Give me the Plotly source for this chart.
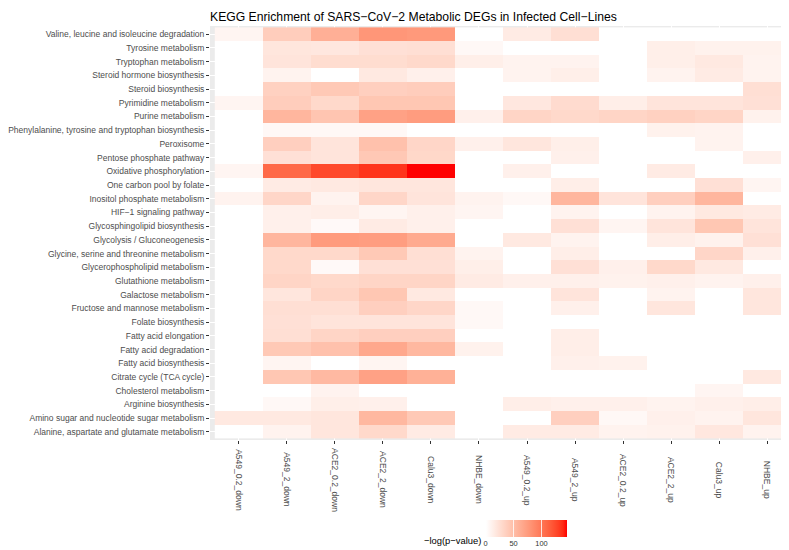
import numpy as np
import plotly.graph_objects as go

# pathways, top to bottom as drawn
pathways = [
    "Valine, leucine and isoleucine degradation",
    "Tyrosine metabolism",
    "Tryptophan metabolism",
    "Steroid hormone biosynthesis",
    "Steroid biosynthesis",
    "Pyrimidine metabolism",
    "Purine metabolism",
    "Phenylalanine, tyrosine and tryptophan biosynthesis",
    "Peroxisome",
    "Pentose phosphate pathway",
    "Oxidative phosphorylation",
    "One carbon pool by folate",
    "Inositol phosphate metabolism",
    "HIF\u22121 signaling pathway",
    "Glycosphingolipid biosynthesis",
    "Glycolysis / Gluconeogenesis",
    "Glycine, serine and threonine metabolism",
    "Glycerophospholipid metabolism",
    "Glutathione metabolism",
    "Galactose metabolism",
    "Fructose and mannose metabolism",
    "Folate biosynthesis",
    "Fatty acid elongation",
    "Fatty acid degradation",
    "Fatty acid biosynthesis",
    "Citrate cycle (TCA cycle)",
    "Cholesterol metabolism",
    "Arginine biosynthesis",
    "Amino sugar and nucleotide sugar metabolism",
    "Alanine, aspartate and glutamate metabolism",
]

samples = ["A549_0.2_down", "A549_2_down", "ACE2_0.2_down", "ACE2_2_down",
           "Calu3_down", "NHBE_down", "A549_0.2_up", "A549_2_up",
           "ACE2_0.2_up", "ACE2_2_up", "Calu3_up", "NHBE_up"]

# -log(p-value) per sample, same order as pathways
a549_02_down = [7, 0, 0, 0, 0, 7, 0, 0, 0, 0, 7, 0, 9, 0, 0, 0, 0, 0, 0, 0, 0, 0, 0, 0, 0, 0, 0, 0, 17, 0]
a549_2_down = [38, 19, 20, 9, 35, 38, 55, 5, 36, 23, 108, 15, 31, 11, 11, 55, 29, 29, 32, 19, 24, 23, 24, 41, 7, 43, 0, 5, 17, 9]
ace2_02_down = [60, 18, 26, 0, 41, 29, 44, 5, 20, 20, 125, 17, 9, 13, 4, 75, 29, 4, 29, 32, 24, 20, 32, 47, 0, 53, 9, 12, 19, 19]
ace2_2_down = [78, 23, 26, 17, 36, 43, 70, 5, 47, 42, 134, 19, 31, 7, 15, 73, 41, 23, 32, 43, 36, 20, 36, 65, 7, 70, 0, 11, 54, 29]
calu3_down = [76, 24, 29, 11, 38, 43, 74, 0, 31, 30, 145, 19, 20, 11, 11, 64, 24, 23, 32, 17, 31, 20, 36, 54, 0, 59, 0, 0, 41, 15]
nhbe_down = [0, 5, 12, 0, 0, 0, 11, 0, 11, 0, 0, 0, 9, 7, 0, 0, 9, 12, 15, 0, 5, 5, 0, 10, 0, 0, 0, 0, 0, 0]
a549_02_up = [15, 0, 9, 9, 0, 18, 32, 0, 19, 0, 11, 0, 5, 0, 0, 17, 0, 0, 11, 0, 0, 0, 0, 0, 0, 0, 0, 13, 0, 15]
a549_2_up = [24, 0, 9, 12, 0, 27, 29, 0, 12, 11, 0, 13, 55, 9, 23, 9, 13, 23, 11, 20, 11, 0, 13, 13, 11, 0, 0, 11, 36, 15]
ace2_02_up = [0, 0, 0, 0, 0, 13, 32, 0, 0, 0, 0, 0, 20, 0, 7, 0, 0, 11, 10, 0, 0, 0, 0, 0, 10, 0, 0, 11, 5, 9]
ace2_2_up = [0, 12, 12, 9, 0, 20, 35, 10, 0, 0, 15, 0, 36, 9, 20, 13, 0, 29, 11, 9, 19, 0, 0, 0, 0, 0, 0, 9, 11, 10]
calu3_up = [0, 10, 17, 15, 0, 20, 32, 9, 9, 0, 0, 23, 55, 17, 43, 10, 31, 17, 9, 0, 0, 0, 0, 0, 0, 0, 7, 11, 9, 18]
nhbe_up = [0, 10, 9, 9, 24, 23, 10, 0, 0, 11, 0, 7, 0, 15, 20, 23, 11, 0, 11, 19, 19, 0, 0, 0, 0, 17, 0, 13, 19, 9]

columns = [a549_02_down, a549_2_down, ace2_02_down, ace2_2_down, calu3_down, nhbe_down,
           a549_02_up, a549_2_up, ace2_02_up, ace2_2_up, calu3_up, nhbe_up]
z = np.array(columns).T


def lab_to_hex(L, a, b):
    # CIE Lab (D65) -> sRGB, like ggplot's white->red gradient
    fy = (L + 16) / 116
    fx = fy + a / 500
    fz = fy - b / 200
    finv = lambda t: t ** 3 if t ** 3 > 0.008856 else (t - 16 / 116) / 7.787
    X, Y, Z = 0.95047 * finv(fx), finv(fy), 1.08883 * finv(fz)
    rgb = [3.2406 * X - 1.5372 * Y - 0.4986 * Z,
           -0.9689 * X + 1.8758 * Y + 0.0415 * Z,
           0.0557 * X - 0.2040 * Y + 1.0570 * Z]
    out = []
    for c in rgb:
        c = min(max(c, 0), 1)
        c = 1.055 * c ** (1 / 2.4) - 0.055 if c > 0.0031308 else 12.92 * c
        out.append(int(round(min(max(c, 0), 1) * 255)))
    return "rgb(%d,%d,%d)" % tuple(out)


white_lab = (100.0, 0.0, 0.0)
red_lab = (53.24, 80.09, 67.20)
colorscale = []
for t in np.linspace(0, 1, 21):
    lab = [w + (r - w) * t for w, r in zip(white_lab, red_lab)]
    colorscale.append([float(t), lab_to_hex(*lab)])

W, H = 789, 550
ml, mr, mt, mb = 202, 1, 18, 118
pw = W - ml - mr
ph = H - mt - mb
bottom = H - mb  # pixel row of the panel's bottom edge


def px_x(px):
    return (px - ml) / pw


def px_y(py):
    return (bottom - py) / ph


fig = go.Figure(go.Heatmap(
    z=z, x=samples, y=pathways,
    colorscale=colorscale, zmin=0, zmax=float(z.max()),
    xgap=0, ygap=0,
    colorbar=dict(
        orientation="h", xref="container", yref="container",
        x=0.815, xanchor="left", y=1 - 512 / H, yanchor="top",
        lenmode="pixels", len=81, thickness=17,
        xpad=0, ypad=0, outlinewidth=0,
        tickvals=[0, 50, 100], ticks="inside", ticklen=17,
        tickcolor="rgba(255,255,255,0.8)", tickwidth=1,
        tickfont=dict(family="Liberation Sans", size=7.4, color="#333333"),
    ),
))

# x labels, rotated and centred like ggplot
annotations = []
for s in samples:
    annotations.append(dict(
        x=s, xref="x", y=px_y(472), yref="paper",
        text=s, showarrow=False, textangle=90,
        xanchor="center", yanchor="middle",
        font=dict(family="Liberation Sans", size=8.5, color="#4D4D4D")))

# legend title
annotations.append(dict(
    x=px_x(475), xref="paper", y=px_y(532), yref="paper",
    text="\u2212log(p\u2212value)", showarrow=False,
    xanchor="right", yanchor="middle",
    font=dict(family="Liberation Sans", size=9.4, color="black")))

fig.update_layout(
    width=W, height=H,
    margin=dict(l=ml, r=mr, t=mt, b=mb, pad=0),
    paper_bgcolor="white", plot_bgcolor="#EBEBEB",
    font=dict(family="Liberation Sans"),
    title=dict(
        text="KEGG Enrichment of SARS\u2212CoV\u22122 Metabolic DEGs in Infected Cell\u2212Lines",
        x=ml / W, xanchor="left", xref="container",
        y=1 - 9 / H, yanchor="middle", yref="container",
        font=dict(size=12.2, color="black")),
    xaxis=dict(
        type="category", range=[-0.6, len(samples) - 0.4],
        showgrid=True, gridcolor="white", gridwidth=1,
        ticks="outside", ticklen=3, tickcolor="#333333",
        showticklabels=False, zeroline=False, showline=False,
        automargin=False),
    yaxis=dict(
        type="category", range=[len(pathways) - 0.4, -0.6],
        showgrid=True, gridcolor="white", gridwidth=1,
        ticks="outside", ticklen=3, tickcolor="#333333",
        tickfont=dict(size=8.5, color="#4D4D4D"),
        zeroline=False, showline=False, automargin=False),
    annotations=annotations,
)

fig.write_html("out.html")
